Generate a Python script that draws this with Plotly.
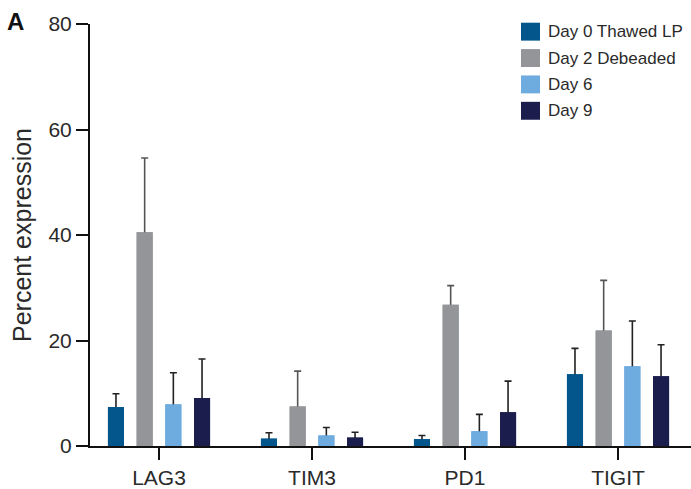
import plotly.graph_objects as go

categories = ["LAG3", "TIM3", "PD1", "TIGIT"]
series_names = ["Day 0 Thawed LP", "Day 2 Debeaded", "Day 6", "Day 9"]
day0 = [7.4, 1.4, 1.3, 13.6]
day2 = [40.5, 7.5, 26.8, 21.9]
day6 = [7.9, 2.0, 2.8, 15.1]
day9 = [9.1, 1.6, 6.4, 13.2]
day0_err = [2.5, 1.1, 0.7, 4.9]
day2_err = [14.1, 6.7, 3.6, 9.5]
day6_err = [6.0, 1.5, 3.2, 8.6]
day9_err = [7.4, 1.0, 5.9, 6.0]
y_ticks = [0, 20, 40, 60, 80]

colors = ["#02568B", "#939598", "#6EABDE", "#1B1D4D"]
err_colors = ["#222222", "#555555", "#222222", "#222222"]
values = [day0, day2, day6, day9]
errors = [day0_err, day2_err, day6_err, day9_err]

W, H = 691, 489
ML, MR, MT, MB = 90, 0, 24, 41
FONT = "Liberation Sans, Arial, sans-serif"
TXT = "#2a2a2a"

fig = go.Figure()
# bars carrying the (upper-only) error bars; the lower cap is hidden inside the bar
for i, (name, v, e, c, ec) in enumerate(zip(series_names, values, errors, colors, err_colors)):
    fig.add_trace(go.Bar(
        x=categories, y=v, name=name, offsetgroup=str(i),
        marker=dict(color=c, line=dict(width=0)),
        error_y=dict(type="data", array=e, arrayminus=[min(0.4, val) for val in v],
                     symmetric=False, color=ec, thickness=1.6, width=3.5),
        showlegend=False, hoverinfo="skip",
    ))
# identical bars on top to cover the lower error caps
for i, (name, v, c) in enumerate(zip(series_names, values, colors)):
    fig.add_trace(go.Bar(
        x=categories, y=v, name=name, offsetgroup=str(i),
        marker=dict(color=c, line=dict(width=0)), showlegend=False,
    ))

pw = W - ML - MR
ph = H - MT - MB
def px_x(x):
    return (x - ML) / pw
def px_y(y):
    return (H - MB - y) / ph

shapes = []
annotations = []
row0, step = 31.7, 26.5
for i, (name, c) in enumerate(zip(series_names, colors)):
    cy = row0 + i * step
    shapes.append(dict(type="rect", xref="paper", yref="paper",
                       x0=px_x(521), x1=px_x(540), y0=px_y(cy + 9), y1=px_y(cy - 9),
                       fillcolor=c, line=dict(width=0)))
    annotations.append(dict(xref="paper", yref="paper", x=px_x(546), y=px_y(cy),
                            text=name, showarrow=False, xanchor="left", yanchor="middle",
                            font=dict(family=FONT, size=17, color=TXT)))

annotations.append(dict(xref="paper", yref="paper", x=0, y=0.5, xshift=-68,
                        text="Percent expression", textangle=-90, showarrow=False,
                        xanchor="center", yanchor="middle",
                        font=dict(family=FONT, size=25, color=TXT)))
annotations.append(dict(xref="paper", yref="paper", x=px_x(15), y=px_y(21),
                        text="<b>A</b>", showarrow=False, xanchor="center", yanchor="middle",
                        font=dict(family=FONT, size=24, color="#111111")))

fig.update_layout(
    width=W, height=H,
    margin=dict(l=ML, r=MR, t=MT, b=MB),
    paper_bgcolor="white", plot_bgcolor="white",
    barmode="group", bargap=0.25, bargroupgap=0.44,
    shapes=shapes, annotations=annotations,
    font=dict(family=FONT, color=TXT),
    xaxis=dict(range=[-0.451, 3.477], showline=True, linecolor="#111111", linewidth=2,
               ticks="outside", ticklen=12, tickwidth=2, tickcolor="#111111",
               tickfont=dict(family=FONT, size=21, color=TXT), showgrid=False, zeroline=False),
    yaxis=dict(range=[0, 80], tickvals=y_ticks, showline=True, linecolor="#111111", linewidth=2,
               ticks="outside", ticklen=12, tickwidth=2, tickcolor="#111111",
               tickfont=dict(family=FONT, size=21, color=TXT), showgrid=False, zeroline=False),
)

fig.write_html("out.html", config={"displayModeBar": False})

# remove the browser's default body margin so the figure sits at the window origin
with open("out.html", "r", encoding="utf-8") as f:
    html = f.read()
html = html.replace("<body>", '<body style="margin:0;padding:0;overflow:hidden;">', 1)
with open("out.html", "w", encoding="utf-8") as f:
    f.write(html)
